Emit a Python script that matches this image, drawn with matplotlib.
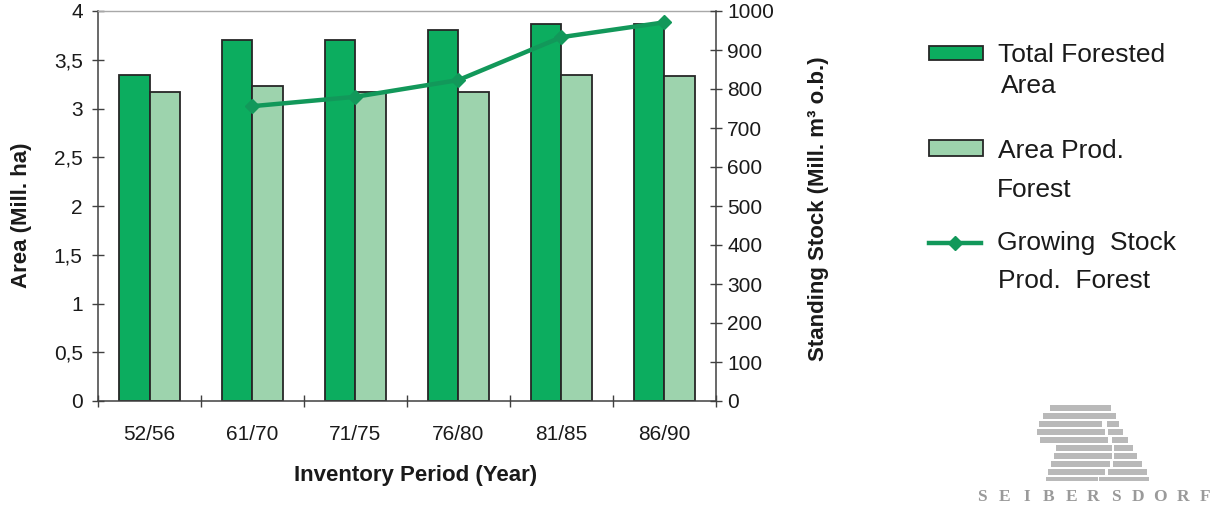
import numpy as np
import matplotlib
matplotlib.use("Agg")
import matplotlib.pyplot as plt
from matplotlib.patches import Rectangle
from matplotlib.lines import Line2D
from matplotlib.ticker import FuncFormatter, FixedLocator

plt.rcParams['font.family'] = ['Liberation Sans', 'DejaVu Sans']

# inventory data
periods = ['52/56', '61/70', '71/75', '76/80', '81/85', '86/90']
total_area = [3.34, 3.70, 3.70, 3.81, 3.87, 3.87]        # Mill. ha
prod_area = [3.17, 3.23, 3.17, 3.17, 3.34, 3.33]         # Mill. ha
growing_stock = [None, 756, 780, 823, 933, 971]          # Mill. m3 o.b.

DARK = '#0cad5f'
LIGHT = '#9dd3ad'
LINE = '#12985a'
EDGE = '#262626'

W, H = 1215, 517
fig = plt.figure(figsize=(W / 100, H / 100), dpi=100)
ax = fig.add_axes([98 / W, 1 - 401 / H, 618 / W, 390 / H])
ax2 = ax.twinx()

x = np.arange(len(periods))
bw = 0.3
ax.bar(x - bw, total_area, width=bw, align='edge', color=DARK,
       edgecolor=EDGE, linewidth=1.3, zorder=2)
ax.bar(x, prod_area, width=bw, align='edge', color=LIGHT,
       edgecolor=EDGE, linewidth=1.3, zorder=2)

stock = np.array([np.nan if v is None else v for v in growing_stock], dtype=float)
ax2.plot(x, stock, color=LINE, linewidth=3.2, marker='D', markersize=7,
         markeredgecolor=LINE, zorder=3)

# left axis (area)
ax.set_xlim(-0.5, len(periods) - 0.5)
ax.set_ylim(0, 4)
ax.set_yticks(np.arange(0, 4.01, 0.5))
ax.yaxis.set_major_formatter(FuncFormatter(lambda v, p: ('%g' % v).replace('.', ',')))
ax.tick_params(axis='y', direction='inout', length=8, width=1, colors='#404040',
               labelcolor='#1a1a1a', labelsize=15, pad=7)

# category labels in the middle, ticks on the boundaries
ax.xaxis.set_major_locator(FixedLocator(np.arange(-0.5, len(periods), 1.0)))
ax.xaxis.set_minor_locator(FixedLocator(x))
ax.set_xticklabels([])
ax.set_xticklabels(periods, minor=True)
ax.tick_params(axis='x', which='major', direction='inout', length=9, width=1,
               colors='#404040')
ax.tick_params(axis='x', which='minor', length=0, labelsize=15,
               labelcolor='#1a1a1a', pad=17)

# right axis (growing stock)
ax2.set_ylim(0, 1000)
ax2.set_yticks(np.arange(0, 1001, 100))
ax2.tick_params(axis='y', direction='inout', length=8, width=1, colors='#404040',
                labelcolor='#1a1a1a', labelsize=15, pad=4)

for s in ['left', 'bottom']:
    ax.spines[s].set_color('#404040')
    ax.spines[s].set_linewidth(1.1)
ax.spines['right'].set_visible(False)
ax.spines['top'].set_color('#a8a8a8')
ax.spines['top'].set_linewidth(1.0)
for s in ['left', 'bottom', 'top']:
    ax2.spines[s].set_visible(False)
ax2.spines['right'].set_color('#404040')
ax2.spines['right'].set_linewidth(1.1)

ax.set_xlabel('Inventory Period (Year)', fontsize=16, fontweight='bold', color='#1a1a1a')
ax.xaxis.set_label_coords(0.514, -0.165)
ax.set_ylabel('Area (Mill. ha)', fontsize=16, fontweight='bold', color='#1a1a1a')
ax.yaxis.set_label_coords(-0.107, 0.477)
ax2.set_ylabel('Standing Stock (Mill. m³ o.b.)', fontsize=16, fontweight='bold',
               color='#1a1a1a')
ax2.yaxis.set_label_coords(1.149, 0.494)


def fx(px):
    return px / W


def fy(py):
    return 1 - py / H


# legend built by hand so the keys sit next to the first text line
def key_box(y0, y1, color):
    fig.add_artist(Rectangle((fx(929), fy(y1)), fx(983) - fx(929), fy(y0) - fy(y1),
                             transform=fig.transFigure, facecolor=color,
                             edgecolor=EDGE, linewidth=1.3))


key_box(46, 60, DARK)
key_box(140, 156, LIGHT)
fig.add_artist(Line2D([fx(929), fx(981)], [fy(243), fy(243)], transform=fig.transFigure,
                      color=LINE, linewidth=3.2))
fig.add_artist(Line2D([fx(955)], [fy(243)], transform=fig.transFigure,
                      color=LINE, marker='D', markersize=7, linestyle='none'))

legend_lines = [
    (998, 62, 'Total Forested'),
    (1001, 93, 'Area'),
    (998, 158, 'Area Prod.'),
    (997, 197, 'Forest'),
    (997, 250, 'Growing  Stock'),
    (998, 288, 'Prod.  Forest'),
]
for lx, ly, txt in legend_lines:
    fig.text(fx(lx), fy(ly), txt, fontsize=19, va='baseline', ha='left', color='#1a1a1a')

# Seibersdorf logo: striped S and wedge
stripes = [
    (405, 411, [(1050, 1103), (1103, 1111)]),
    (413, 419, [(1043, 1116)]),
    (421, 427, [(1039, 1102), (1107, 1119)]),
    (429, 435, [(1037, 1105), (1108, 1123)]),
    (437, 443, [(1040, 1108), (1112, 1128)]),
    (445, 451, [(1056, 1112), (1114, 1133)]),
    (453, 459, [(1054, 1112), (1114, 1137)]),
    (461, 467, [(1051, 1110), (1113, 1142)]),
    (469, 475, [(1048, 1105), (1108, 1147)]),
    (477, 481, [(1046, 1098), (1099, 1149)]),
]
for y0, y1, segs in stripes:
    for a, b in segs:
        fig.add_artist(Rectangle((fx(a), fy(y1)), fx(b) - fx(a), fy(y0) - fy(y1),
                                 transform=fig.transFigure, facecolor='#b9b9b9',
                                 edgecolor='none'))

for i, ch in enumerate('SEIBERSDORF'):
    fig.text(fx(982 + i * 22.3), fy(501), ch, fontsize=12.5, fontweight='bold',
             family='Liberation Serif', color='#9a9a9a', ha='center', va='baseline')

fig.savefig('out.png', dpi=100)
